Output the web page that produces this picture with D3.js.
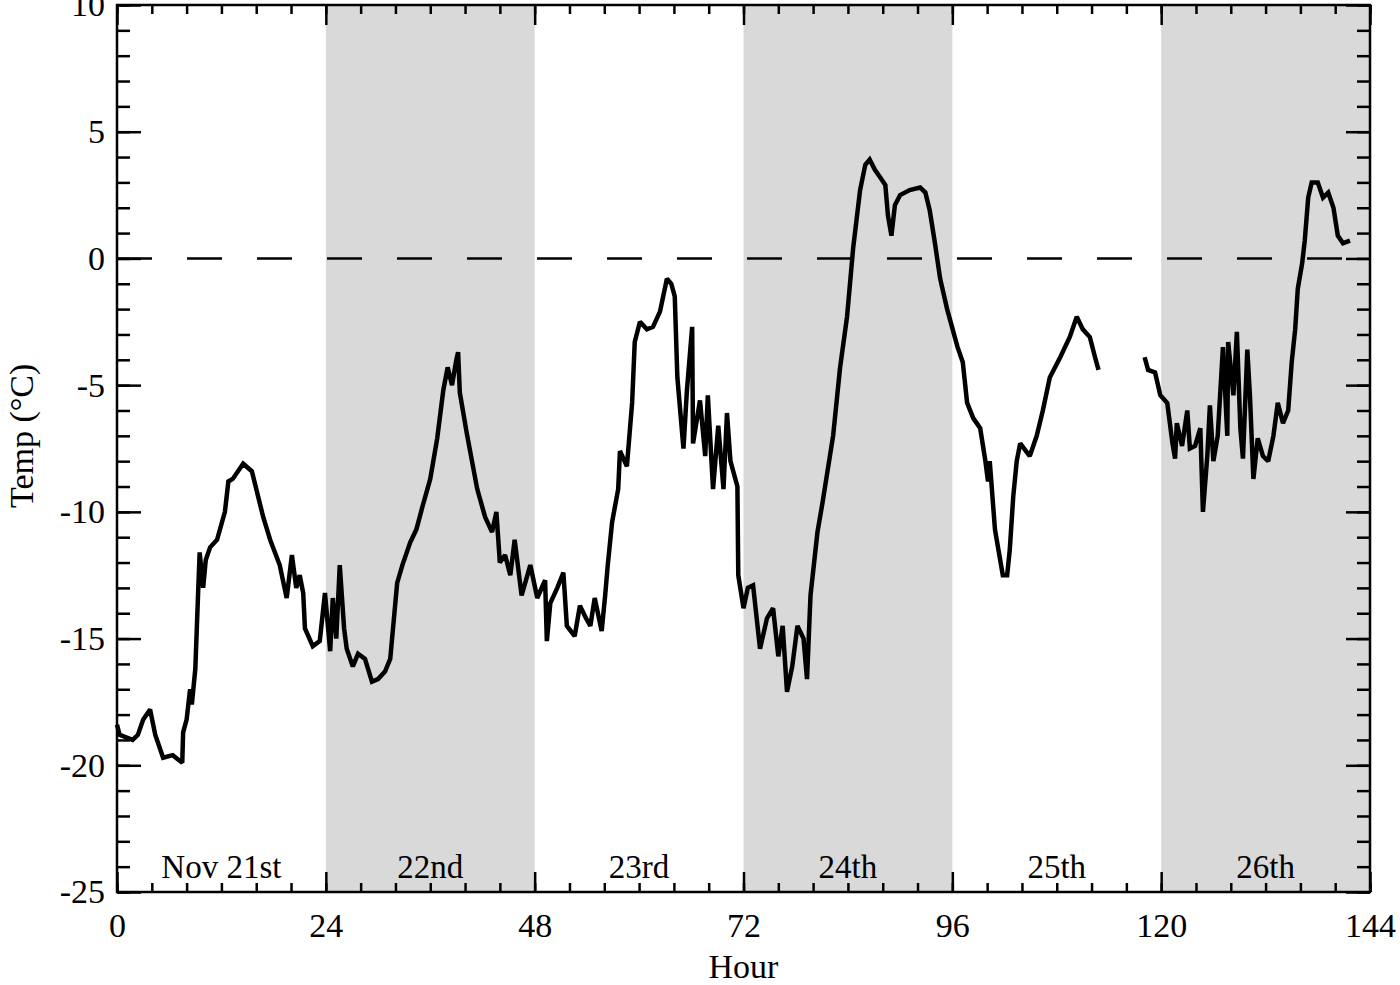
<!DOCTYPE html>
<html>
<head>
<meta charset="utf-8">
<script src="https://cdn.jsdelivr.net/npm/d3@7"></script>
<style>
  body { margin: 0; background: #fff; }
  text { font-family: "Liberation Serif", "DejaVu Serif", serif; fill: #000; }
</style>
</head>
<body>
<script>
// day bands and labels
const dayStarts = [0, 24, 48, 72, 96, 120]
const dayLabels = ["Nov 21st", "22nd", "23rd", "24th", "25th", "26th"]
const shadedDays = [24, 72, 120]

const xTicks = [0, 24, 48, 72, 96, 120, 144]
const xMinor = d3.range(0, 145, 4)
const yTicks = [10, 5, 0, -5, -10, -15, -20, -25]
const yMinor = d3.range(-25, 11, 1)

// temperature record (hour, degC)
const hoursA = [0, 0.3, 1.8, 2.4, 3.0, 3.8, 4.4, 5.3, 6.4, 7.5, 7.6, 8.0, 8.4, 8.6, 9.0, 9.3, 9.5, 9.9, 10.2, 10.7,
  11.5, 12.4, 12.8, 13.3, 14.5, 15.5, 16.8, 17.6, 18.7, 19.5, 20.1, 20.6, 21.0, 21.4, 21.6, 22.5, 23.3, 23.9, 24.5, 24.8,
  25.2, 25.6, 26.1, 26.4, 27.1, 27.7, 28.5, 29.3, 30.0, 30.8, 31.4, 32.2, 32.8, 33.7, 34.4, 35.1, 36.0, 36.8, 37.5, 38.0,
  38.5, 39.0, 39.2, 39.4, 40.2, 41.4, 42.3, 43.1, 43.6, 44.0, 44.6, 45.2, 45.7, 46.5, 47.5, 48.3, 49.2, 49.4, 49.8, 50.6,
  51.3, 51.7, 52.6, 53.2, 53.9, 54.4, 54.9, 55.7, 56.1, 56.4, 56.9, 57.6, 57.8, 58.6, 59.2, 59.5, 60.1, 60.9, 61.6, 62.4,
  63.2, 63.7, 64.1, 64.4, 65.1, 65.5, 66.1, 66.2, 67.0, 67.6, 67.9, 68.5, 69.1, 69.7, 70.1, 70.5, 71.3, 71.4, 72.0, 72.5,
  73.1, 73.9, 74.7, 75.4, 76.0, 76.5, 77.0, 77.6, 78.2, 78.9, 79.3, 79.7, 80.5, 81.1, 82.3, 83.1, 83.9, 84.6, 85.4, 86.0,
  86.5, 87.1, 87.7, 88.3, 88.6, 89.0, 89.4, 90.0, 91.1, 92.3, 92.9, 93.4, 94.0, 94.6, 95.4, 96.6, 97.2, 97.7, 98.4, 99.2,
  99.8, 100.1, 100.3, 100.9, 101.3, 101.8, 102.3, 102.6, 103.0, 103.4, 103.8, 104.9, 105.7, 106.4, 107.2, 108.4, 109.5, 110.3, 111.0, 111.8,
  112.4, 112.8]
const tempsA = [-18.4, -18.8, -19.0, -18.8, -18.2, -17.8, -18.8, -19.7, -19.6, -19.9, -18.7, -18.2, -17.0, -17.6, -16.2, -13.4, -11.6, -13.0, -11.9, -11.4,
  -11.1, -10.0, -8.8, -8.7, -8.1, -8.4, -10.2, -11.1, -12.1, -13.4, -11.7, -13.0, -12.5, -13.2, -14.6, -15.3, -15.1, -13.2, -15.5, -13.4,
  -15.0, -12.1, -14.6, -15.4, -16.1, -15.6, -15.8, -16.7, -16.6, -16.3, -15.8, -12.8, -12.1, -11.2, -10.7, -9.8, -8.7, -7.1, -5.2, -4.3,
  -5.0, -4.0, -3.7, -5.3, -6.9, -9.1, -10.2, -10.8, -10.0, -12.0, -11.7, -12.5, -11.1, -13.3, -12.1, -13.4, -12.7, -15.1, -13.6, -13.0,
  -12.4, -14.5, -14.9, -13.7, -14.2, -14.5, -13.4, -14.7, -13.3, -12.1, -10.4, -9.1, -7.6, -8.2, -5.7, -3.3, -2.5, -2.8, -2.7, -2.1,
  -0.8, -1.0, -1.5, -4.7, -7.5, -5.2, -2.7, -7.3, -5.6, -7.8, -5.4, -9.1, -6.6, -9.1, -6.1, -8.0, -9.0, -12.5, -13.8, -13.0,
  -12.9, -15.4, -14.2, -13.8, -15.7, -14.5, -17.1, -16.1, -14.5, -15.0, -16.6, -13.3, -10.8, -9.6, -7.0, -4.3, -2.3, 0.4, 2.7, 3.7,
  3.9, 3.5, 3.2, 2.9, 1.7, 0.9, 2.1, 2.5, 2.7, 2.8, 2.6, 1.9, 0.6, -0.8, -2.0, -3.5, -4.1, -5.7, -6.3, -6.7,
  -8.0, -8.8, -8.0, -10.7, -11.5, -12.5, -12.5, -11.5, -9.4, -8.0, -7.3, -7.8, -7.0, -6.0, -4.7, -3.9, -3.1, -2.3, -2.8, -3.1,
  -3.9, -4.4]

const hoursB = [118.1, 118.5, 119.3, 119.9, 120.7, 121.3, 121.6, 121.8, 122.4, 123.0, 123.3, 123.9, 124.5, 124.8, 125.3, 125.6, 126.0, 126.5, 127.1, 127.6,
  127.7, 128.3, 128.7, 129.1, 129.4, 129.9, 130.2, 130.6, 131.1, 131.7, 132.3, 132.9, 133.4, 134.0, 134.6, 135.0, 135.4, 135.7, 136.2, 136.5,
  136.9, 137.3, 138.0, 138.6, 139.2, 139.8, 140.3, 140.9, 141.7]
const tempsB = [-3.9, -4.4, -4.5, -5.4, -5.7, -7.3, -7.9, -6.5, -7.4, -6.0, -7.5, -7.4, -6.7, -10.0, -7.8, -5.8, -8.0, -7.0, -3.5, -7.0,
  -3.3, -5.4, -2.9, -6.7, -7.9, -3.6, -5.4, -8.7, -7.1, -7.8, -8.0, -7.0, -5.7, -6.5, -6.0, -4.1, -2.8, -1.2, -0.2, 0.7,
  2.4, 3.0, 3.0, 2.4, 2.6, 2.0, 0.9, 0.6, 0.7]

const margin = {top: 5, right: 30, bottom: 93, left: 117},
      width = 1253,
      height = 887

let svg = d3.select("body")
  .append("svg")
  .attr("width", 1400)
  .attr("height", 985)

let g = svg.append("g")
  .attr("transform", `translate(${margin.left},${margin.top})`)

const x = d3.scaleLinear().domain([0, 144]).range([0, width])
const y = d3.scaleLinear().domain([-25, 10]).range([height, 0])

// shaded days
g.append("g").selectAll("rect")
  .data(shadedDays)
  .enter()
  .append("rect")
  .attr("x", d => x(d))
  .attr("y", 0)
  .attr("width", d => x(d + 24) - x(d))
  .attr("height", height)
  .attr("fill", "#d9d9d9")

// zero line
g.append("line")
  .attr("x1", 0).attr("x2", width)
  .attr("y1", y(0)).attr("y2", y(0))
  .attr("stroke", "#000")
  .attr("stroke-width", 2.5)
  .attr("stroke-dasharray", "35,35")

// temperature trace
const line = d3.line()
  .x(d => x(d[0]))
  .y(d => y(d[1]))
for (const seg of [[hoursA, tempsA], [hoursB, tempsB]]) {
  g.append("path")
    .datum(seg[0].map((h, i) => [h, seg[1][i]]))
    .attr("d", line)
    .attr("fill", "none")
    .attr("stroke", "#000")
    .attr("stroke-width", 4.5)
    .attr("stroke-linejoin", "miter")
    .attr("stroke-miterlimit", 2)
}

// day labels
g.append("g").selectAll("text")
  .data(dayStarts)
  .enter()
  .append("text")
  .attr("x", d => x(d + 12))
  .attr("y", height - 14)
  .attr("text-anchor", "middle")
  .style("font-size", "33px")
  .text((d, i) => dayLabels[i])

// axes, ticks pointing inwards
function styleAxis(sel) {
  sel.select(".domain").remove()
  sel.selectAll("line").attr("stroke", "#000").attr("stroke-width", 2.5)
  sel.selectAll("text").style("font-size", "34px").attr("font-family", null).attr("fill", "#000")
}

g.append("g").attr("transform", `translate(0,${height})`)
  .call(d3.axisBottom(x).tickValues(xMinor).tickSize(-9).tickFormat(""))
  .call(styleAxis)
g.append("g").attr("transform", `translate(0,${height})`)
  .call(d3.axisBottom(x).tickValues(xTicks).tickSize(-20).tickPadding(21).tickFormat(d3.format("d")))
  .call(styleAxis)
g.append("g")
  .call(d3.axisTop(x).tickValues(xMinor).tickSize(-9).tickFormat(""))
  .call(styleAxis)
g.append("g")
  .call(d3.axisTop(x).tickValues(xTicks).tickSize(-20).tickFormat(""))
  .call(styleAxis)

g.append("g")
  .call(d3.axisLeft(y).tickValues(yMinor).tickSize(-13).tickFormat(""))
  .call(styleAxis)
g.append("g")
  .call(d3.axisLeft(y).tickValues(yTicks).tickSize(-24).tickPadding(12).tickFormat(d => d < 0 ? "-" + (-d) : d))
  .call(styleAxis)
g.append("g").attr("transform", `translate(${width},0)`)
  .call(d3.axisRight(y).tickValues(yMinor).tickSize(-13).tickFormat(""))
  .call(styleAxis)
g.append("g").attr("transform", `translate(${width},0)`)
  .call(d3.axisRight(y).tickValues(yTicks).tickSize(-24).tickFormat(""))
  .call(styleAxis)

// frame
g.append("rect")
  .attr("width", width)
  .attr("height", height)
  .attr("fill", "none")
  .attr("stroke", "#000")
  .attr("stroke-width", 2.5)

// axis titles
g.append("text")
  .attr("x", x(72))
  .attr("y", height + 86)
  .attr("text-anchor", "middle")
  .style("font-size", "34px")
  .text("Hour")

g.append("text")
  .attr("transform", `translate(${-117 + 33},${y(-7)}) rotate(-90)`)
  .attr("text-anchor", "middle")
  .style("font-size", "34px")
  .text("Temp (°C)")
</script>
</body>
</html>
